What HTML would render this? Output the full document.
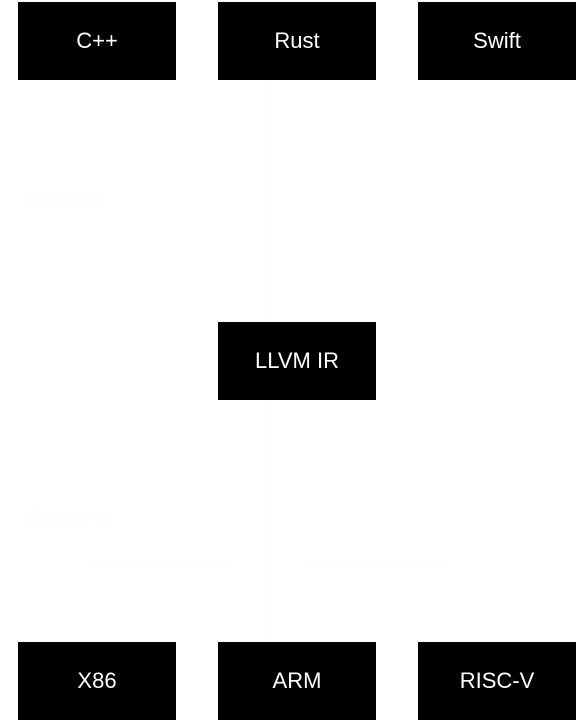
<!DOCTYPE html>
<html><head><meta charset="utf-8"><style>
html,body{margin:0;padding:0;background:#fff;width:580px;height:722px;overflow:hidden}
.b{position:absolute;width:158px;height:78px;background:#000;color:#fff;font:22px "Liberation Sans",sans-serif;display:flex;align-items:center;justify-content:center}
svg{position:absolute;left:0;top:0}
</style></head><body>
<svg width="580" height="722">
<g stroke="#fdfdfe" fill="none" stroke-width="1">
<path d="M88 80V160H232V318M268 80V318M448 80V160H304V318"/>
<path d="M232 400V561H88V638M268 400V638M304 400V561H448V638"/>
<line x1="25" y1="238" x2="575" y2="238" stroke-dasharray="2 12"/>
<line x1="25" y1="480" x2="575" y2="480" stroke-dasharray="2 12"/>
</g>
<text x="25" y="205" font-family="Liberation Sans" font-size="20" fill="#fdfdfe">Frontend</text>
<text x="29" y="525" font-family="Liberation Sans" font-size="20" fill="#fdfdfe">Backend</text>
</svg>
<div class="b" style="left:18px;top:2px">C++</div>
<div class="b" style="left:218px;top:2px">Rust</div>
<div class="b" style="left:418px;top:2px">Swift</div>
<div class="b" style="left:218px;top:322px">LLVM IR</div>
<div class="b" style="left:18px;top:642px">X86</div>
<div class="b" style="left:218px;top:642px">ARM</div>
<div class="b" style="left:418px;top:642px">RISC-V</div>
</body></html>
